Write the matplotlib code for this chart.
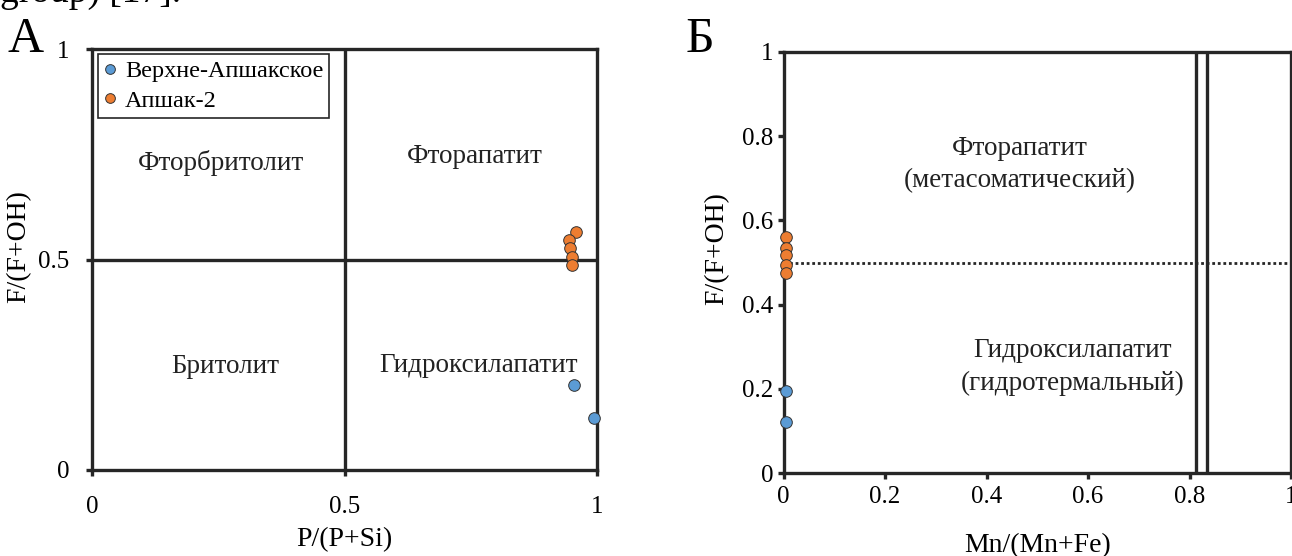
import matplotlib
matplotlib.use('Agg')
import matplotlib.pyplot as plt
from matplotlib.lines import Line2D

plt.rcParams['font.family'] = ['Liberation Serif', 'DejaVu Serif']

# данные: F/(F+OH), P/(P+Si), Mn/(Mn+Fe)
series = ['Верхне-Апшакское', 'Апшак-2']
colors = ['#5b9bd5', '#ed7d31']

# панель А
p_blue = [0.955, 0.994]
f_blue_a = [0.202, 0.124]
p_orange = [0.958, 0.944, 0.946, 0.950, 0.950]
f_orange_a = [0.566, 0.546, 0.527, 0.505, 0.487]

# панель Б
mn_blue = [0.004, 0.004]
f_blue_b = [0.195, 0.122]
mn_orange = [0.004, 0.004, 0.004, 0.004, 0.004]
f_orange_b = [0.560, 0.534, 0.519, 0.494, 0.474]

ticks_a = [0, 0.5, 1]
ticklabels_a = ['0', '0.5', '1']
ticks_b = [0, 0.2, 0.4, 0.6, 0.8, 1]
ticklabels_b = ['0', '0.2', '0.4', '0.6', '0.8', '1']

fields_a = ['Фторбритолит', 'Фторапатит', 'Бритолит', 'Гидроксилапатит']
fields_b = ['Фторапатит\n(метасоматический)', 'Гидроксилапатит\n(гидротермальный)']
bounds_b = [0.812, 0.835]

lc = '#262626'
lw = 2.4

fig = plt.figure(figsize=(12.92, 5.56), dpi=100)
W, H = 1292, 556

def box(x0, x1, ytop, ybot):
    return [x0 / W, 1 - ybot / H, (x1 - x0) / W, (ybot - ytop) / H]

ax1 = fig.add_axes(box(92.5, 597, 49, 470))
ax2 = fig.add_axes(box(783.5, 1291, 52, 473))

for ax in (ax1, ax2):
    ax.set_xlim(0, 1)
    ax.set_ylim(0, 1)
    for s in ax.spines.values():
        s.set_linewidth(lw)
        s.set_color(lc)
    ax.tick_params(direction='out', length=4.5, width=lw, color=lc,
                   labelsize=18)

# --- панель А ---
ax1.set_xticks(ticks_a)
ax1.set_xticklabels(ticklabels_a)
ax1.set_yticks(ticks_a)
ax1.set_yticklabels(ticklabels_a)
ax1.tick_params(axis='x', pad=14)
ax1.tick_params(axis='y', pad=12)
ax1.axvline(0.5, color=lc, lw=lw, zorder=2)
ax1.axhline(0.5, color=lc, lw=lw, zorder=2)

ax1.scatter(p_blue, f_blue_a, s=70, c=colors[0], edgecolors='#333333',
            linewidths=0.7, zorder=5, clip_on=False)
ax1.scatter(p_orange, f_orange_a, s=70, c=colors[1], edgecolors='#333333',
            linewidths=0.7, zorder=5, clip_on=False)

pos_a = [(0.255, 0.729), (0.758, 0.744), (0.263, 0.247), (0.766, 0.249)]
for t, (x, y) in zip(fields_a, pos_a):
    ax1.text(x, y, t, ha='center', va='center', fontsize=19.5, color='#222222')

ax1.set_xlabel('P/(P+Si)', fontsize=20)
ax1.xaxis.set_label_coords(0.5, -0.136)
ax1.set_ylabel('F/(F+OH)', fontsize=20)
ax1.yaxis.set_label_coords(-0.122, 0.53)

handles = [Line2D([], [], ls='none', marker='o', ms=7, mfc=c, mec='#333333',
                  mew=0.7) for c in colors]
leg = ax1.legend(handles, series, loc='upper left',
                 bbox_to_anchor=(0.011, 0.988), fontsize=17.5, frameon=True,
                 fancybox=False, framealpha=1, edgecolor=lc,
                 handlelength=0.5, handletextpad=0.35, borderpad=0.25,
                 labelspacing=0.32, borderaxespad=0)
leg.get_frame().set_linewidth(1.2)

# --- панель Б ---
ax2.set_xticks(ticks_b)
ax2.set_xticklabels(ticklabels_b)
ax2.set_yticks(ticks_b)
ax2.set_yticklabels(ticklabels_b)
ax2.tick_params(axis='x', pad=5)
ax2.tick_params(axis='y', pad=3)
for b in bounds_b:
    ax2.axvline(b, color=lc, lw=lw, zorder=2)
ax2.axhline(0.5, color=lc, lw=2.0, ls=(0, (1, 1)), zorder=2)

ax2.scatter(mn_blue, f_blue_b, s=70, c=colors[0], edgecolors='#333333',
            linewidths=0.7, zorder=5, clip_on=False)
ax2.scatter(mn_orange, f_orange_b, s=70, c=colors[1], edgecolors='#333333',
            linewidths=0.7, zorder=5, clip_on=False)

pos_b = [(0.466, 0.733), (0.569, 0.252)]
for t, (x, y) in zip(fields_b, pos_b):
    ax2.text(x, y, t, ha='center', va='center', fontsize=19.5,
             color='#222222', linespacing=1.38, multialignment='center')

ax2.set_xlabel('Mn/(Mn+Fe)', fontsize=20)
ax2.xaxis.set_label_coords(0.5, -0.1425)
ax2.set_ylabel('F/(F+OH)', fontsize=20)
ax2.yaxis.set_label_coords(-0.107, 0.533)

# подписи панелей и обрезанная строка текста сверху
fig.text(8 / W, 1 - 52 / H, 'А', fontsize=36, va='baseline', ha='left')
fig.text(686 / W, 1 - 52 / H, 'Б', fontsize=36, va='baseline', ha='left')
fig.text(0, 1 - 2 / H, 'group) [17].', fontsize=27, va='baseline', ha='left')

fig.savefig('out.png', dpi=100)
